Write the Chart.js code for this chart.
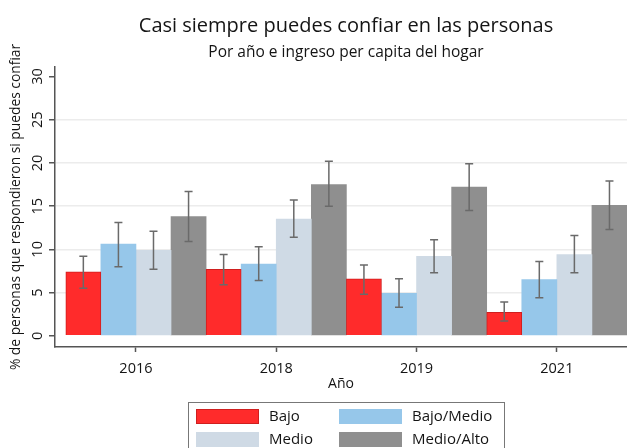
<!DOCTYPE html>
<html>
<head>
<meta charset="utf-8">
<script src="https://cdn.jsdelivr.net/npm/chart.js@4.4.1/dist/chart.umd.min.js"></script>
<style>
  html, body { margin: 0; padding: 0; background: #fff; }
  #wrap { position: relative; width: 627px; height: 448px; }
</style>
</head>
<body>
<div id="wrap"><canvas id="chart" width="627" height="448"></canvas></div>
<script>
// categorias y valores (% que respondieron "si puedes confiar")
const years = ['2016', '2018', '2019', '2021'];
const seriesNames = ['Bajo', 'Bajo/Medio', 'Medio', 'Medio/Alto'];

const bajo = [7.4, 7.7, 6.6, 2.7];
const bajoMedio = [10.6, 8.3, 4.9, 6.5];
const medio = [9.9, 13.5, 9.2, 9.4];
const medioAlto = [13.8, 17.5, 17.2, 15.1];

// intervalos de confianza
const bajoLo = [5.5, 5.9, 4.8, 1.7];
const bajoHi = [9.2, 9.4, 8.2, 3.9];
const bajoMedioLo = [8.0, 6.4, 3.3, 4.4];
const bajoMedioHi = [13.1, 10.3, 6.6, 8.6];
const medioLo = [7.7, 11.4, 7.3, 7.3];
const medioHi = [12.1, 15.7, 11.1, 11.6];
const medioAltoLo = [10.9, 15.0, 14.5, 12.3];
const medioAltoHi = [16.7, 20.2, 19.9, 17.9];

const yTicks = [0, 5, 10, 15, 20, 25, 30];

const FONT = '"Open Sans", sans-serif';
const TEXT = '#141414';
const AXIS = '#555';

const colors = ['#ff2b2b', '#96c7ea', '#cfdae5', '#8f8f8f'];
const borders = ['#cf1f1f', '#96c7ea', '#cfdae5', '#8f8f8f'];
const values = [bajo, bajoMedio, medio, medioAlto];
const lows = [bajoLo, bajoMedioLo, medioLo, medioAltoLo];
const highs = [bajoHi, bajoMedioHi, medioHi, medioAltoHi];

const datasets = values.map((vals, i) => ({
    label: seriesNames[i],
    data: vals.map((v, j) => ({ x: j, y: v })),
    backgroundColor: colors[i],
    borderColor: borders[i],
    borderWidth: i === 0 ? 1 : 0,
    categoryPercentage: 1,
    barPercentage: 1
}));

const errorBars = {
    id: 'errorBars',
    afterDatasetsDraw(chart) {
        const ctx = chart.ctx;
        const y = chart.scales.y;
        ctx.save();
        ctx.strokeStyle = '#6a6a6a';
        ctx.lineWidth = 1.5;
        chart.data.datasets.forEach((ds, i) => {
            chart.getDatasetMeta(i).data.forEach((bar, j) => {
                const top = y.getPixelForValue(highs[i][j]);
                const bot = y.getPixelForValue(lows[i][j]);
                ctx.beginPath();
                ctx.moveTo(bar.x, top);
                ctx.lineTo(bar.x, bot);
                ctx.moveTo(bar.x - 4, top);
                ctx.lineTo(bar.x + 4, top);
                ctx.moveTo(bar.x - 4, bot);
                ctx.lineTo(bar.x + 4, bot);
                ctx.stroke();
            });
        });
        ctx.restore();
    }
};

const titles = {
    id: 'titles',
    afterDraw(chart) {
        const ctx = chart.ctx;
        const cx = (chart.chartArea.left + chart.chartArea.right) / 2 + 5;
        ctx.save();
        ctx.fillStyle = TEXT;
        ctx.textAlign = 'center';
        ctx.textBaseline = 'middle';
        ctx.font = '20px ' + FONT;
        ctx.fillText('Casi siempre puedes confiar en las personas', cx, 26);
        ctx.font = '15.5px ' + FONT;
        ctx.fillText('Por año e ingreso per capita del hogar', cx, 53);
        ctx.restore();
    }
};

const boxLegend = {
    id: 'boxLegend',
    afterDraw(chart) {
        const ctx = chart.ctx;
        const cx = (chart.chartArea.left + chart.chartArea.right) / 2 + 5;
        const left = cx - 158;
        const top = 402;
        ctx.save();
        ctx.strokeStyle = '#777';
        ctx.lineWidth = 1;
        ctx.strokeRect(left + 0.5, top + 0.5, 316, 60);
        ctx.font = '15px ' + FONT;
        ctx.textBaseline = 'middle';
        chart.data.datasets.forEach((ds, k) => {
            const sx = left + 8 + (k % 2) * 143;
            const sy = top + 7 + Math.floor(k / 2) * 23;
            ctx.fillStyle = ds.backgroundColor;
            ctx.fillRect(sx, sy, 63, 15);
            if (ds.borderWidth) {
                ctx.strokeStyle = ds.borderColor;
                ctx.strokeRect(sx + 0.5, sy + 0.5, 62, 14);
            }
            ctx.fillStyle = TEXT;
            ctx.fillText(ds.label, sx + 73, sy + 8);
        });
        ctx.restore();
    }
};

new Chart(document.getElementById('chart'), {
    type: 'bar',
    data: { datasets: datasets },
    plugins: [errorBars, titles, boxLegend],
    options: {
        responsive: false,
        animation: false,
        layout: { padding: { top: 67, right: 0, bottom: 56, left: 0 } },
        plugins: {
            legend: { display: false },
            tooltip: { enabled: false }
        },
        scales: {
            x: {
                type: 'linear',
                offset: false,
                min: -0.577,
                max: 3.5,
                afterBuildTicks: s => { s.ticks = years.map((_, i) => ({ value: i })); },
                afterFit: s => { s.height = 45; },
                ticks: {
                    callback: v => years[v],
                    color: TEXT,
                    font: { family: FONT, size: 14.5 },
                    padding: 8,
                    maxRotation: 0,
                    autoSkip: false
                },
                grid: { offset: false, drawOnChartArea: false, drawTicks: true, tickLength: 5, tickColor: AXIS, tickWidth: 1.5 },
                border: { display: true, color: AXIS, width: 1.5 },
                title: {
                    display: true,
                    text: 'Año',
                    color: TEXT,
                    font: { family: FONT, size: 14 },
                    padding: { top: 0, bottom: 0 }
                }
            },
            y: {
                min: -1.3,
                max: 31.1,
                afterBuildTicks: s => { s.ticks = yTicks.map(v => ({ value: v })); },
                afterFit: s => { s.width = 55; },
                ticks: {
                    color: TEXT,
                    font: { family: FONT, size: 14.5 },
                    minRotation: 90,
                    maxRotation: 90,
                    crossAlign: 'center',
                    padding: 3
                },
                grid: {
                    color: c => (c.tick && c.tick.value > 0 && c.tick.value < 30) ? '#ececec' : 'rgba(0,0,0,0)',
                    lineWidth: 1.5,
                    drawTicks: true,
                    tickLength: 6,
                    tickColor: AXIS,
                    tickWidth: 1.5
                },
                border: { display: true, color: AXIS, width: 1.5 },
                title: {
                    display: true,
                    text: '% de personas que respondieron si puedes confiar',
                    color: TEXT,
                    font: { family: FONT, size: 13.8 },
                    padding: { top: 8, bottom: 0 }
                }
            }
        }
    }
});
</script>
</body>
</html>
